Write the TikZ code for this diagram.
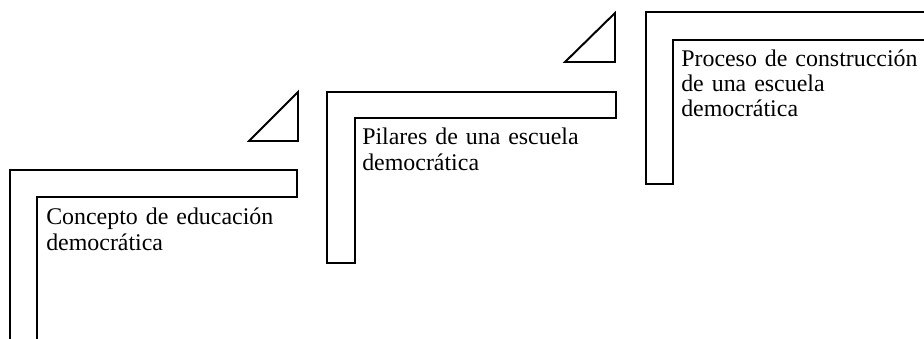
\documentclass[tikz,border=0pt]{standalone}
\usepackage{fontspec}
\setmainfont{Liberation Serif}
\usepackage{tikz}
\usetikzlibrary{calc}

\begin{document}
\begin{tikzpicture}[x=0.025cm,y=-0.025cm,
	stepline/.style={line width=1.4pt,line join=miter},
	steptext/.style={anchor=base west,inner sep=0pt,text width=6.5cm,align=left,
		font=\fontsize{17}{17.8}\selectfont}]
	\useasboundingbox (0,0) rectangle (924,339);
	\clip (0,0) rectangle (924,339);
	
	% first step
	\draw[stepline] (10,345) -- (10,170) -- (297,170) -- (297,197) -- (37,197) -- (37,345);
	\node[steptext] (concepto) at (46,225) {Concepto de educación\\democrática};
	
	% second step
	\draw[stepline] (298,92) -- (249,141) -- (298,141) -- cycle;
	\draw[stepline] (327,263) -- (327,92) -- (616,92) -- (616,118) -- (355,118) -- (355,263) -- cycle;
	\node[steptext] (pilares) at (362,145) {Pilares de una escuela\\democrática};
	
	% third step
	\draw[stepline] (615,13) -- (565,62) -- (615,62) -- cycle;
	\draw[stepline] (930,12) -- (646,12) -- (646,184) -- (673,184) -- (673,40) -- (930,40);
	\node[steptext] (proceso) at (681,66.7) {Proceso de construcción\\de una escuela\\democrática};
\end{tikzpicture}
\end{document}
